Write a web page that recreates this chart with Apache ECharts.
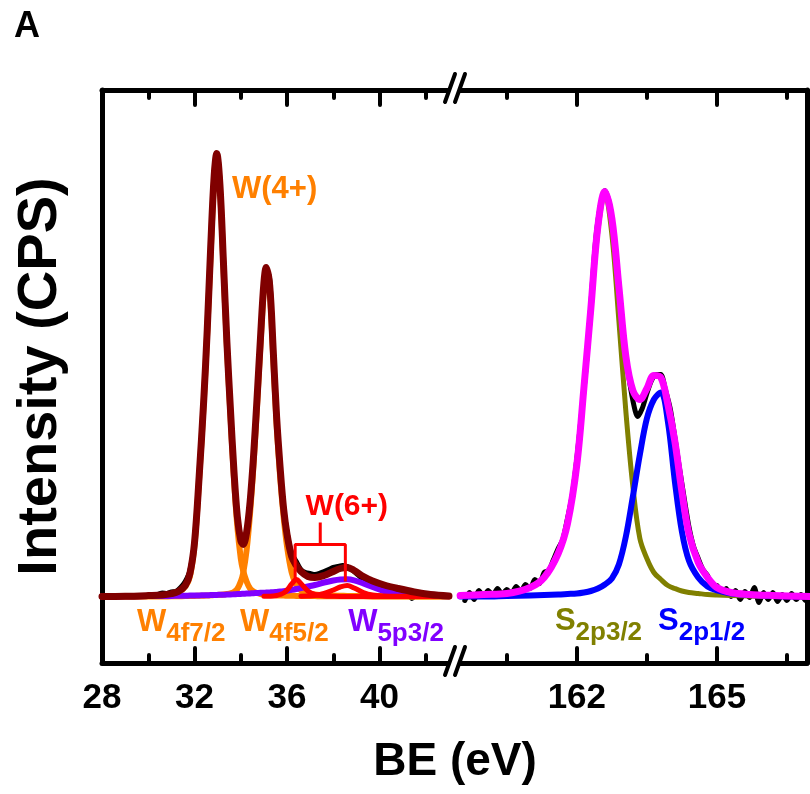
<!DOCTYPE html>
<html>
<head>
<meta charset="utf-8">
<script src="https://cdn.jsdelivr.net/npm/echarts@6/dist/echarts.min.js"></script>
<style>
  html, body { margin: 0; padding: 0; background: #fff; }
  #chart { width: 810px; height: 794px; }
</style>
</head>
<body>
<div id="chart"></div>
<script>
// ---------- W 4f / W 5p region (binding energy, eV) ----------
const wBE = [28.0, 29.0, 30.0, 30.6, 31.0, 31.3, 31.6, 31.8, 32.0, 32.2, 32.4, 32.55, 32.7, 32.85, 32.96,
  33.1, 33.25, 33.4, 33.55, 33.7, 33.85, 34.0, 34.1, 34.25, 34.4, 34.55, 34.7, 34.85, 35.0, 35.1,
  35.25, 35.4, 35.55, 35.7, 35.85, 36.0, 36.2, 36.4, 36.6, 36.9, 37.2, 37.6, 38.0, 38.3, 38.6,
  38.9, 39.3, 39.7, 40.2, 40.8, 41.5, 42.2, 43.0];

// W(4+) 4f7/2 component
const w4f72 = [0, 0, 0.05, 0.1, 0.2, 0.4, 1.0, 2.0, 5.2, 11.8, 19.5, 26.5, 34.5, 41.8, 44.0,
  40.8, 33.0, 25.0, 18.3, 12.0, 7.0, 3.8, 2.6, 1.5, 0.8, 0.5, 0.35, 0.25, 0.2, 0.18,
  0.15, 0.13, 0.11, 0.1, 0.09, 0.08, 0.07, 0.06, 0.05, 0.05, 0.04, 0.03, 0.03, 0.02, 0.02,
  0.02, 0.02, 0.01, 0.01, 0.01, 0, 0, 0];

// W(4+) 4f5/2 component
const w4f52 = [0, 0, 0, 0, 0.02, 0.03, 0.04, 0.05, 0.06, 0.07, 0.08, 0.1, 0.12, 0.14, 0.15,
  0.17, 0.2, 0.25, 0.32, 0.45, 0.75, 1.5, 2.3, 4.6, 8.3, 13.2, 19.0, 25.2, 30.8, 32.3,
  30.5, 24.0, 17.2, 12.0, 8.0, 5.0, 2.4, 1.2, 0.6, 0.3, 0.2, 0.12, 0.09, 0.07, 0.06,
  0.05, 0.04, 0.03, 0.02, 0.02, 0.01, 0.01, 0];

// W(6+) doublet components (null = outside the fitted window)
const w6a = [null, null, null, null, null, null, null, null, null, null, null, null, null, null, null,
  null, null, null, null, null, null, null, null, null, null, null, null, null, 0.02, 0.02,
  0.03, 0.05, 0.1, 0.2, 0.35, 0.65, 1.25, 1.7, 1.3, 0.55, 0.2, 0.06, 0.02, 0, 0,
  0, 0, 0, 0, 0, 0, 0, 0];
const w6b = [null, null, null, null, null, null, null, null, null, null, null, null, null, null, null,
  null, null, null, null, null, null, null, null, null, null, null, null, null, null, null,
  null, null, null, null, null, null, null, null, 0.03, 0.05, 0.1, 0.3, 0.65, 0.95, 1.1,
  0.85, 0.4, 0.15, 0.05, 0.02, 0, 0, 0];

// W 5p3/2 component
const w5p32 = [0, 0.02, 0.04, 0.05, 0.06, 0.07, 0.08, 0.09, 0.1, 0.11, 0.12, 0.13, 0.14, 0.15, 0.16,
  0.17, 0.18, 0.19, 0.2, 0.22, 0.24, 0.26, 0.27, 0.29, 0.31, 0.33, 0.35, 0.37, 0.38, 0.39,
  0.41, 0.43, 0.46, 0.49, 0.53, 0.58, 0.66, 0.75, 0.85, 1.0, 1.15, 1.4, 1.6, 1.7, 1.72,
  1.62, 1.3, 0.95, 0.55, 0.3, 0.15, 0.07, 0.03];

// Fit envelope
const wEnv = [0, 0.02, 0.09, 0.15, 0.28, 0.5, 1.1, 2.3, 5.4, 12.0, 19.7, 26.7, 35.0, 42.1, 44.3,
  41.1, 33.4, 25.4, 18.8, 12.7, 8.0, 5.6, 5.2, 6.4, 9.4, 14.0, 19.7, 25.8, 31.4, 32.9,
  31.1, 24.7, 17.9, 12.9, 8.8, 6.2, 4.0, 3.1, 2.5, 2.0, 1.9, 2.1, 2.5, 2.8, 2.9,
  2.6, 2.0, 1.55, 1.15, 0.8, 0.45, 0.2, 0.05];

// Measured spectrum
const wRawBE = [30.4, 30.6, 30.8, 31.0, 31.2, 31.4, 31.6, 31.8, 32.0, 32.2, 32.4, 32.6, 32.8, 33.0, 33.2,
  33.4, 33.6, 33.8, 34.0, 34.2, 34.4, 34.6, 34.8, 35.0, 35.2, 35.4, 35.6, 35.8, 36.0, 36.2,
  36.4, 36.6, 36.8, 37.0, 37.2, 37.4, 37.6, 37.8, 38.0, 38.2, 38.4, 38.6, 38.8, 39.0, 39.2,
  39.4, 39.6, 39.8, 40.0, 40.2, 40.4, 40.6, 40.8, 41.0, 41.2, 41.4, 41.6, 41.8, 42.0];
const wRaw = [0.2, 0.35, 0.3, 0.45, 0.5, 0.9, 1.5, 2.6, 5.6, 11.8, 19.9, 29.0, 40.0, 44.0, 36.5,
  25.5, 16.5, 9.4, 5.8, 5.6, 9.2, 15.9, 23.8, 31.3, 32.3, 24.9, 16.2, 10.1, 6.4, 4.3,
  3.5, 2.7, 2.4, 2.3, 2.2, 2.3, 2.5, 2.7, 2.9, 3.0, 3.1, 3.0, 2.7, 2.3, 1.9,
  1.5, 1.25, 1.05, 0.9, 0.75, 0.65, 0.55, 0.5, 0.4, 0.3, -0.2, 0.2, 0.15, 0.1];

// ---------- S 2p region ----------
const sBE = [159.5, 160.0, 160.5, 161.0, 161.3, 161.6, 161.8, 162.0, 162.15, 162.3, 162.45, 162.6, 162.75, 162.9, 163.05,
  163.2, 163.35, 163.5, 163.65, 163.8, 163.95, 164.1, 164.25, 164.4, 164.6, 164.8, 165.0, 165.3, 165.7, 166.2, 167.0];
const s2p32 = [0.1, 0.2, 0.3, 0.9, 1.9, 4.2, 7.2, 13.0, 20.5, 28.5, 36.5, 40.3, 36.2, 27.6, 18.5,
  11.0, 5.8, 3.8, 2.4, 1.7, 1.1, 0.8, 0.55, 0.4, 0.3, 0.2, 0.15, 0.1, 0.05, 0, 0];
const s2p12 = [0, 0, 0.05, 0.1, 0.15, 0.2, 0.25, 0.3, 0.4, 0.55, 0.8, 1.2, 1.8, 3.2, 6.0,
  10.0, 14.2, 17.8, 19.7, 20.4, 17.5, 11.5, 6.5, 3.6, 1.9, 1.0, 0.6, 0.3, 0.15, 0.05, 0];
const sEnv = [0.1, 0.2, 0.3, 0.9, 1.9, 4.3, 7.3, 13.2, 20.8, 28.8, 37.0, 40.5, 37.8, 31.0, 24.0,
  20.6, 19.7, 20.8, 22.1, 21.9, 19.2, 15.5, 10.5, 6.3, 3.4, 1.9, 0.9, 0.4, 0.2, 0.1, 0];

const sRawBE = [159.6, 159.7, 159.8, 159.9, 160.0, 160.1, 160.2, 160.3, 160.4, 160.5, 160.6, 160.7, 160.8, 160.9, 161.0,
  161.1, 161.2, 161.3, 161.4, 161.5, 161.6, 161.7, 161.8, 161.9, 162.0, 162.1, 162.2, 162.3, 162.4, 162.5,
  162.6, 162.7, 162.8, 162.9, 163.0, 163.1, 163.2, 163.3, 163.4, 163.5, 163.6, 163.7, 163.8, 163.9, 164.0,
  164.1, 164.2, 164.3, 164.4, 164.5, 164.6, 164.7, 164.8, 164.9, 165.0, 165.1, 165.2, 165.3, 165.4, 165.5,
  165.6, 165.7, 165.8, 165.9, 166.0, 166.1, 166.2, 166.3, 166.4, 166.5, 166.6, 166.7, 166.8, 166.9, 167.0];
const sRaw = [-0.4, 0.4, -0.3, 0.6, 0.0, 0.6, 0.1, 0.8, 0.2, 0.7, 0.3, 1.0, 0.5, 1.2, 0.8,
  1.7, 1.3, 2.4, 2.6, 3.7, 4.8, 5.7, 7.8, 10.1, 13.8, 18.3, 23.0, 29.2, 35.5, 39.0,
  40.6, 39.3, 36.0, 31.2, 26.0, 22.4, 19.6, 18.0, 18.8, 20.3, 21.6, 22.2, 22.2, 20.6, 18.8,
  15.9, 12.8, 9.8, 7.0, 5.0, 3.8, 2.7, 2.1, 1.1, 1.1, 0.3, 0.8, 0.0, 0.6, -0.3,
  0.5, -0.1, 0.9, -0.6, 0.4, -0.3, 0.4, -0.5, 0.2, -0.4, 0.3, -0.3, 0.2, -0.4, 0.1];

// ---------- axis ticks ----------
const wMajorTicks = [32, 36, 40];
const wMinorTicks = [30, 34, 38, 42];
const wTickLabels = [28, 32, 36, 40];
const sMajorTicks = [162, 165];
const sMinorTicks = [160.5, 163.5, 166.5];
const sTickLabels = [162, 165];

// W(6+) doublet positions marked by the bracket
const w6Peaks = [36.35, 38.52];

// ---------- chart ----------
const FONT = '"Liberation Sans", Arial, sans-serif';
const C = {
  env: '#800000', w4: '#FF8000', w6: '#FF0000', w5p: '#8000FF',
  s32: '#808000', s12: '#0000FF', sEnv: '#FF00FF', raw: '#000000'
};

// panel 0 = W region, panel 1 = S region
const PANEL_X = [0, 4];

function pairs(xs, ys) {
  const out = [];
  for (let i = 0; i < xs.length; i++) if (ys[i] !== null) out.push([xs[i], ys[i]]);
  return out;
}

function curve(name, panel, xs, ys, color, width, z, smooth) {
  return {
    name, type: 'line', xAxisIndex: PANEL_X[panel], yAxisIndex: panel,
    data: pairs(xs, ys), symbol: 'none', showSymbol: false,
    smooth: smooth === undefined ? 0.35 : smooth, z, silent: true, animation: false,
    lineStyle: { color, width, cap: 'round', join: 'round' }
  };
}

const W_MIN = 28, W_MAX = 43.26, S_MIN = 159.39, S_MAX = 166.93;
const Y_MIN = -6.65, Y_MAX = 50.65;

function xAxis(grid, pos, min, max, ticks, len, labels, line) {
  return {
    type: 'value', gridIndex: grid, position: pos, min, max,
    axisLine: { show: line, onZero: false, lineStyle: { color: '#000', width: 5 } },
    axisTick: { show: true, inside: true, length: len, customValues: ticks,
      lineStyle: { color: '#000', width: 4, cap: 'round' } },
    axisLabel: labels ? { show: true, customValues: labels, margin: 18, fontSize: 35,
      fontWeight: 'bold', color: '#000', fontFamily: FONT } : { show: false },
    splitLine: { show: false }
  };
}

const textBase = { fontFamily: FONT, fontWeight: 'bold' };
function subLabel(main, sub, color) {
  return {
    show: true, position: [0, 0], align: 'left', verticalAlign: 'middle',
    formatter: '{m|' + main + '}{s|' + sub + '}',
    rich: {
      m: Object.assign({ fontSize: 31, color, verticalAlign: 'bottom', padding: [0, 0, 9, 0] }, textBase),
      s: Object.assign({ fontSize: 26, color, verticalAlign: 'bottom' }, textBase)
    }
  };
}
function plainLabel(text, color, size) {
  return {
    show: true, position: [0, 0], align: 'left', verticalAlign: 'middle',
    formatter: text, color, fontSize: size, fontFamily: FONT, fontWeight: 'bold'
  };
}
function mark(coord, label) {
  return { coord, symbol: 'circle', symbolSize: 0, label };
}

const bracketMid = (w6Peaks[0] + w6Peaks[1]) / 2;

const option = {
  animation: false,
  backgroundColor: '#fff',
  grid: [
    { left: 102, top: 90, width: 353, height: 573 },
    { left: 455, top: 90, width: 352, height: 573 }
  ],
  xAxis: [
    xAxis(0, 'bottom', W_MIN, W_MAX, wMajorTicks, 15, wTickLabels, true),
    xAxis(0, 'bottom', W_MIN, W_MAX, wMinorTicks, 8, null, false),
    xAxis(0, 'top', W_MIN, W_MAX, wMajorTicks, 15, null, true),
    xAxis(0, 'top', W_MIN, W_MAX, wMinorTicks, 8, null, false),
    xAxis(1, 'bottom', S_MIN, S_MAX, sMajorTicks, 15, sTickLabels, true),
    xAxis(1, 'bottom', S_MIN, S_MAX, sMinorTicks, 8, null, false),
    xAxis(1, 'top', S_MIN, S_MAX, sMajorTicks, 15, null, true),
    xAxis(1, 'top', S_MIN, S_MAX, sMinorTicks, 8, null, false)
  ],
  yAxis: [
    { type: 'value', gridIndex: 0, position: 'left', min: Y_MIN, max: Y_MAX,
      axisLine: { show: true, onZero: false, lineStyle: { color: '#000', width: 5 } },
      axisTick: { show: false }, axisLabel: { show: false }, splitLine: { show: false },
      name: 'Intensity (CPS)', nameLocation: 'middle', nameGap: 33,
      nameTextStyle: { fontSize: 56, fontWeight: 'bold', color: '#000', fontFamily: FONT } },
    { type: 'value', gridIndex: 1, position: 'right', min: Y_MIN, max: Y_MAX,
      axisLine: { show: true, onZero: false, lineStyle: { color: '#000', width: 5 } },
      axisTick: { show: false }, axisLabel: { show: false }, splitLine: { show: false } }
  ],
  series: [
    curve('W raw', 0, wRawBE, wRaw, C.raw, 5, 1, 0.25),
    curve('W4f7/2 (4+)', 0, wBE, w4f72, C.w4, 6, 2),
    curve('W4f5/2 (4+)', 0, wBE, w4f52, C.w4, 6, 2),
    curve('W5p3/2', 0, wBE, w5p32, C.w5p, 6, 3),
    curve('W4f7/2 (6+)', 0, wBE, w6a, C.w6, 5, 4),
    curve('W4f5/2 (6+)', 0, wBE, w6b, C.w6, 5, 4),
    curve('W envelope', 0, wBE, wEnv, C.env, 7, 5),
    {
      name: 'W(6+) bracket', type: 'line', xAxisIndex: 0, yAxisIndex: 0, z: 6,
      symbol: 'none', silent: true, animation: false,
      lineStyle: { color: C.w6, width: 3 },
      data: [[w6Peaks[0], 1.5], [w6Peaks[0], 5.2], [w6Peaks[1], 5.2], [w6Peaks[1], 1.5]]
    },
    {
      name: 'W(6+) stem', type: 'line', xAxisIndex: 0, yAxisIndex: 0, z: 6,
      symbol: 'none', silent: true, animation: false,
      lineStyle: { color: C.w6, width: 3 },
      data: [[bracketMid, 5.2], [bracketMid, 7.4]]
    },
    curve('S raw', 1, sRawBE, sRaw, C.raw, 5, 1, 0.25),
    curve('S2p3/2', 1, sBE, s2p32, C.s32, 5, 2),
    curve('S2p1/2', 1, sBE, s2p12, C.s12, 6, 3),
    curve('S envelope', 1, sBE, sEnv, C.sEnv, 7, 4),
    {
      name: 'W labels', type: 'scatter', xAxisIndex: 0, yAxisIndex: 0, data: [], z: 10,
      markPoint: {
        silent: true, animation: false,
        data: [
          mark([29.51, -3.05], subLabel('W', '4f7/2', C.w4)),
          mark([33.97, -3.05], subLabel('W', '4f5/2', C.w4)),
          mark([38.64, -3.05], subLabel('W', '5p3/2', C.w5p)),
          mark([33.62, 40.75], plainLabel('W(4+)', C.w4, 31)),
          mark([36.8, 8.95], plainLabel('W(6+)', C.w6, 30))
        ]
      }
    },
    {
      name: 'S labels', type: 'scatter', xAxisIndex: 4, yAxisIndex: 1, data: [], z: 10,
      markPoint: {
        silent: true, animation: false,
        data: [
          mark([161.53, -2.95], subLabel('S', '2p3/2', C.s32)),
          mark([163.74, -2.95], subLabel('S', '2p1/2', C.s12))
        ]
      }
    }
  ],
  graphic: [
    { type: 'text', left: 14, top: 9, style: { text: 'A', fontSize: 36, fontWeight: 'bold', fontFamily: FONT, fill: '#000' } },
    { type: 'text', x: 455, y: 739, style: { text: 'BE (eV)', fontSize: 46, fontWeight: 'bold', fontFamily: FONT, fill: '#000', textAlign: 'center', textVerticalAlign: 'top' } },
    // axis break marks, top and bottom
    { type: 'polygon', shape: { points: [[451.5, 84], [461.5, 84], [458.5, 94], [448.5, 94]] }, style: { fill: '#fff' }, z: 100 },
    { type: 'line', shape: { x1: 445, y1: 102, x2: 455, y2: 74 }, style: { stroke: '#000', lineWidth: 4, lineCap: 'round' }, z: 101 },
    { type: 'line', shape: { x1: 455, y1: 102, x2: 465, y2: 74 }, style: { stroke: '#000', lineWidth: 4, lineCap: 'round' }, z: 101 },
    { type: 'polygon', shape: { points: [[451.5, 657], [461.5, 657], [458.5, 667], [448.5, 667]] }, style: { fill: '#fff' }, z: 100 },
    { type: 'line', shape: { x1: 445, y1: 675, x2: 455, y2: 647 }, style: { stroke: '#000', lineWidth: 4, lineCap: 'round' }, z: 101 },
    { type: 'line', shape: { x1: 455, y1: 675, x2: 465, y2: 647 }, style: { stroke: '#000', lineWidth: 4, lineCap: 'round' }, z: 101 }
  ]
};

const chart = echarts.init(document.getElementById('chart'), null, { renderer: 'canvas' });
chart.setOption(option);
</script>
</body>
</html>
